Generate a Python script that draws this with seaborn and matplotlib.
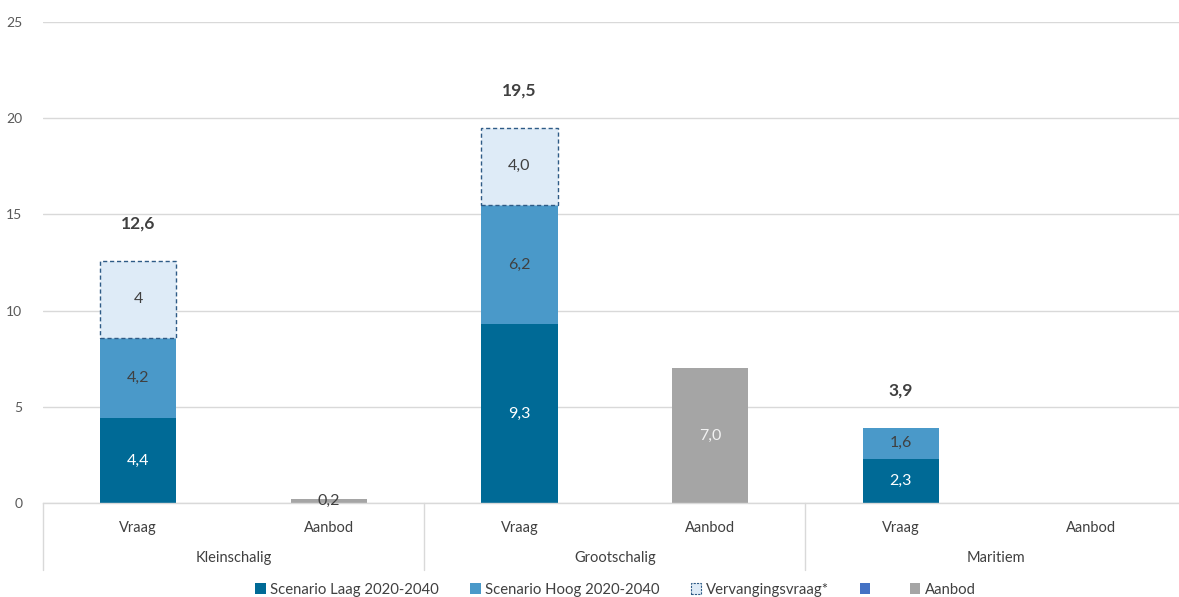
import matplotlib
matplotlib.use("Agg")
import matplotlib.pyplot as plt
import matplotlib.transforms as mtransforms
from matplotlib.patches import Patch
import numpy as np
import pandas as pd
import seaborn as sns

groups = ["Kleinschalig", "Grootschalig", "Maritiem"]
sub_labels = ["Vraag", "Aanbod"] * 3
scenario_laag = [4.4, 0, 9.3, 0, 2.3, 0]
scenario_hoog = [4.2, 0, 6.2, 0, 1.6, 0]
vervanging = [4.0, 0, 4.0, 0, 0, 0]
aanbod = [0, 0.2, 0, 7.0, 0, 0]
seg_labels_laag = ["4,4", "", "9,3", "", "2,3", ""]
seg_labels_hoog = ["4,2", "", "6,2", "", "1,6", ""]
seg_labels_verv = ["4", "", "4,0", "", "", ""]
seg_labels_aanbod = ["", "0,2", "", "7,0", "", ""]
totals = [12.6, None, 19.5, None, 3.9, None]
total_labels = ["12,6", "", "19,5", "", "3,9", ""]

C_LAAG = "#006a96"
C_HOOG = "#4a99c9"
C_VERV = "#deebf7"
C_VERV_EDGE = "#2e5b86"
C_BLUE = "#4472c4"
C_AANBOD = "#a5a5a5"

sns.set_theme(style="white")
plt.rcParams["font.family"] = ["Lato", "DejaVu Sans"]

keys = [f"{g}|{s}" for g in groups for s in ["Vraag", "Aanbod"]]
df = pd.DataFrame({
    "key": keys,
    "laag": scenario_laag,
    "hoog": scenario_hoog,
    "verv": vervanging,
    "aanbod": aanbod,
})

fig = plt.figure(figsize=(11.79, 5.97), dpi=100)
ax = fig.add_axes([43 / 1179, 94 / 597, 1143.6 / 1179, 481 / 597])

w = 0.4
laag = np.array(scenario_laag)
hoog = np.array(scenario_hoog)
verv = np.array(vervanging)

sns.barplot(data=df, x="key", y="laag", order=keys, color=C_LAAG, saturation=1,
            width=w, errorbar=None, ax=ax, linewidth=0)
sns.barplot(data=df, x="key", y="hoog", order=keys, color=C_HOOG, saturation=1,
            width=w, errorbar=None, ax=ax, linewidth=0, bottom=laag)
sns.barplot(data=df, x="key", y="verv", order=keys, color=C_VERV, saturation=1,
            width=w, errorbar=None, ax=ax, bottom=laag + hoog,
            edgecolor=C_VERV_EDGE, linewidth=1.0, linestyle=(0, (3, 2)))
sns.barplot(data=df, x="key", y="aanbod", order=keys, color=C_AANBOD, saturation=1,
            width=w, errorbar=None, ax=ax, linewidth=0)

# hide zero-height bars (otherwise the dashed edge shows up)
for p in ax.patches:
    if p.get_height() == 0:
        p.set_visible(False)

# segment labels
for i in range(6):
    if seg_labels_laag[i]:
        ax.text(i, laag[i] / 2, seg_labels_laag[i], ha="center", va="center",
                color="white", fontsize=11.5)
    if seg_labels_hoog[i]:
        ax.text(i, laag[i] + hoog[i] / 2, seg_labels_hoog[i], ha="center",
                va="center", color="#404040", fontsize=11.5)
    if seg_labels_verv[i]:
        ax.text(i, laag[i] + hoog[i] + verv[i] / 2, seg_labels_verv[i],
                ha="center", va="center", color="#404040", fontsize=11.5)
    if seg_labels_aanbod[i]:
        col = "#f2f2f2" if aanbod[i] > 1 else "#404040"
        ax.text(i, aanbod[i] / 2, seg_labels_aanbod[i], ha="center",
                va="center", color=col, fontsize=11.5)
    if totals[i] is not None:
        ax.text(i, totals[i] + 1.95, total_labels[i], ha="center", va="center",
                color="#404040", fontsize=12.5, fontweight="bold")

ax.set_xlim(-0.5, 5.5)
ax.set_ylim(0, 25)
ax.set_yticks([0, 5, 10, 15, 20, 25])
ax.set_yticklabels(["0", "5", "10", "15", "20", "25"])
ax.tick_params(axis="y", length=0, pad=15, labelsize=10, labelcolor="#595959")
ax.set_xticks(range(6))
ax.set_xticklabels(sub_labels)
ax.tick_params(axis="x", length=0, pad=13, labelsize=10.5, labelcolor="#404040")
ax.set_xlabel("")
ax.set_ylabel("")
ax.grid(axis="y", color="#d9d9d9", linewidth=1)
ax.set_axisbelow(True)
for s in ["top", "right", "left"]:
    ax.spines[s].set_visible(False)
ax.spines["bottom"].set_color("#d9d9d9")
ax.spines["bottom"].set_linewidth(1)

trans = mtransforms.blended_transform_factory(ax.transData, ax.transAxes)
for gi, g in enumerate(groups):
    ax.text(gi * 2 + 0.5, -0.114, g, transform=trans, ha="center", va="center",
            fontsize=10.5, color="#404040")
for xv in [-0.5, 1.5, 3.5, 5.5]:
    ax.plot([xv, xv], [0, -0.14], transform=trans, color="#d9d9d9",
            linewidth=1, clip_on=False)

handles = [
    Patch(facecolor=C_LAAG, edgecolor="none"),
    Patch(facecolor=C_HOOG, edgecolor="none"),
    Patch(facecolor=C_VERV, edgecolor=C_VERV_EDGE, linestyle=(0, (2, 1)), linewidth=0.8),
    Patch(facecolor=C_BLUE, edgecolor="none"),
    Patch(facecolor=C_AANBOD, edgecolor="none"),
]
labels = ["Scenario Laag 2020-2040", "Scenario Hoog 2020-2040", "Vervangingsvraag*", " ",
          "Aanbod"]
fig.legend(handles, labels, loc="center", bbox_to_anchor=(0.522, 0.012), ncol=5,
           frameon=False, fontsize=10.7, handlelength=0.7, handleheight=0.7,
           handletextpad=0.3, columnspacing=2.1, labelcolor="#404040")

fig.savefig("out.png", dpi=100)
